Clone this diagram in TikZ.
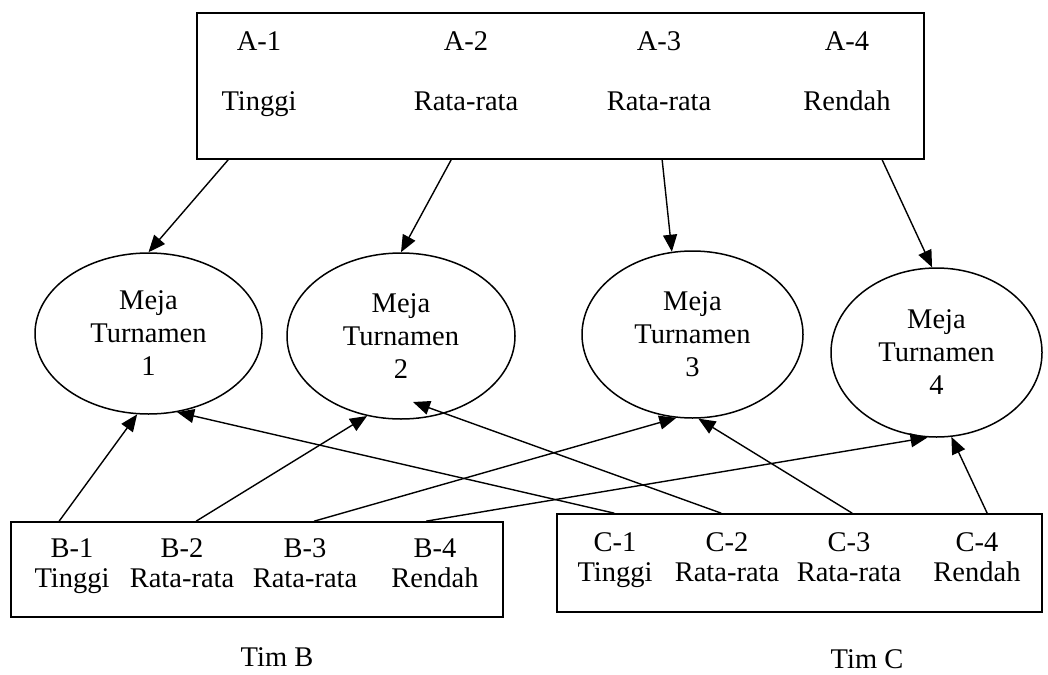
\documentclass[tikz,border=0pt]{standalone}
\usepackage{fontspec}
\setmainfont{Liberation Serif}
\usetikzlibrary{shapes.geometric, arrows.meta}

\begin{document}
\begin{tikzpicture}[x=1pt,y=-1pt]

\tikzset{kotak/.style = {draw, line width=1.7pt, inner sep=0pt}}
\tikzset{meja/.style = {shape=ellipse, draw, line width=1.5pt, inner sep=0pt, align=center, font=\fontsize{28.5}{33}\selectfont}}
\tikzset{isi/.style = {align=center, inner sep=0pt, font=\fontsize{28.5}{33}\selectfont}}
\tikzset{edge/.style = {-{Triangle[length=17pt,width=14pt]}, line width=1.4pt}}
\useasboundingbox (0,0) rectangle (1048,674);
%boxes
\node[kotak, minimum width=727pt, minimum height=146pt] (boxA) at (560.5,86) {};
\node[kotak, minimum width=492pt, minimum height=95pt] (boxB) at (257,569.5) {};
\node[kotak, minimum width=485pt, minimum height=98pt] (boxC) at (799.5,563) {};
\node[isi] (a1) at (259,74) {A-1\strut\\[27pt]Tinggi\strut};
\node[isi] (a2) at (466,74) {A-2\strut\\[27pt]Rata-rata\strut};
\node[isi] (a3) at (659,74) {A-3\strut\\[27pt]Rata-rata\strut};
\node[isi] (a4) at (847,74) {A-4\strut\\[27pt]Rendah\strut};
\node[isi] (b1) at (72,566) {B-1\strut\\[-3pt]Tinggi\strut};
\node[isi] (b2) at (182,566) {B-2\strut\\[-3pt]Rata-rata\strut};
\node[isi] (b3) at (305,566) {B-3\strut\\[-3pt]Rata-rata\strut};
\node[isi] (b4) at (435,566) {B-4\strut\\[-3pt]Rendah\strut};
\node[isi] (c1) at (615,560) {C-1\strut\\[-3pt]Tinggi\strut};
\node[isi] (c2) at (727,560) {C-2\strut\\[-3pt]Rata-rata\strut};
\node[isi] (c3) at (849,560) {C-3\strut\\[-3pt]Rata-rata\strut};
\node[isi] (c4) at (977,560) {C-4\strut\\[-3pt]Rendah\strut};
\node[isi] (timB) at (277,657) {Tim B};
\node[isi] (timC) at (867,659) {Tim C};
%meja
\node[meja, minimum width=227pt, minimum height=161pt] (meja1) at (148.5,333.5) {Meja\\Turnamen\\1};
\node[meja, minimum width=228pt, minimum height=166pt] (meja2) at (401,336) {Meja\\Turnamen\\2};
\node[meja, minimum width=221pt, minimum height=167pt] (meja3) at (692.5,334.5) {Meja\\Turnamen\\3};
\node[meja, minimum width=211pt, minimum height=169pt] (meja4) at (936.5,352.5) {Meja\\Turnamen\\4};
%ujung
\coordinate (outA1) at ([xshift=32pt]boxA.south west);
\coordinate (outA2) at ([xshift=255pt]boxA.south west);
\coordinate (outA3) at ([xshift=466pt]boxA.south west);
\coordinate (outA4) at ([xshift=686pt]boxA.south west);
\coordinate (outB1) at ([xshift=49pt]boxB.north west);
\coordinate (outB2) at ([xshift=186pt]boxB.north west);
\coordinate (outB3) at ([xshift=304pt]boxB.north west);
\coordinate (outB4) at ([xshift=416pt]boxB.north west);
\coordinate (outC1) at ([xshift=58pt]boxC.north west);
\coordinate (outC2) at ([xshift=165pt]boxC.north west);
\coordinate (outC3) at ([xshift=296pt]boxC.north west);
\coordinate (outC4) at ([xshift=431pt]boxC.north west);
\coordinate (in2) at ([xshift=12pt,yshift=-66pt]meja2.center);
%edges
\draw[edge] (outA1) -- (meja1.north);
\draw[edge] (outA2) -- (meja2.north);
\draw[edge] (outA3) -- (meja3.104);
\draw[edge] (outA4) -- (meja4.93);
\draw[edge] (outB1) -- (meja1.262);
\draw[edge] (outB2) -- (meja2.247);
\draw[edge] (outB3) -- (meja3.259);
\draw[edge] (outB4) -- (meja4.264);
\draw[edge] (outC1) -- (meja1.290);
\draw[edge] (outC2) -- (in2);
\draw[edge] (outC3) -- (meja3.274);
\draw[edge] (outC4) -- (meja4.280);

\end{tikzpicture}
\end{document}
